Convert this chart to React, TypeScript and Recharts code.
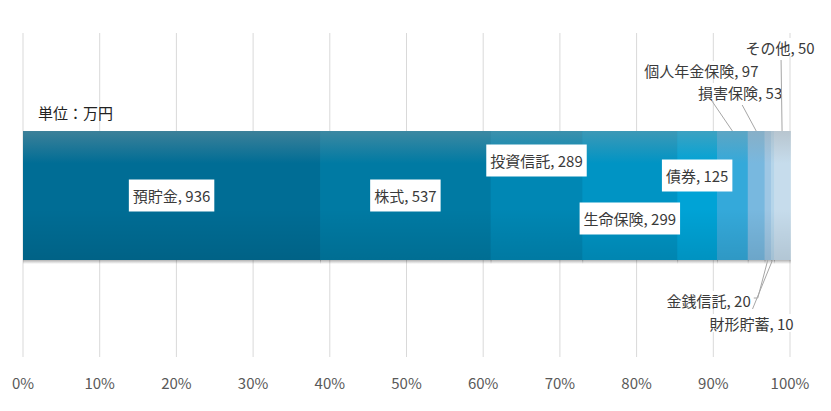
import { BarChart, Bar, XAxis, YAxis, CartesianGrid, LabelList } from "recharts";

const categories = [
  "預貯金",
  "株式",
  "投資信託",
  "生命保険",
  "債券",
  "個人年金保険",
  "損害保険",
  "金銭信託",
  "財形貯蓄",
  "その他",
];
const values = [936, 537, 289, 299, 125, 97, 53, 20, 10, 50];
const tickValues = [0, 0.1, 0.2, 0.3, 0.4, 0.5, 0.6, 0.7, 0.8, 0.9, 1];
const tickLabels = ["0%", "10%", "20%", "30%", "40%", "50%", "60%", "70%", "80%", "90%", "100%"];
const unitLabel = "単位：万円";

const colors = [
  "#006d95",
  "#007aa3",
  "#0087b4",
  "#0094c4",
  "#00a3d6",
  "#34a9da",
  "#78b8df",
  "#9fc7e4",
  "#b5d5ea",
  "#c6dcec",
];

// label placement per series: inside (dy from bar middle) or outside with a leader line
type LabelPos =
  | { mode: "inside"; dy: number }
  | { mode: "outside"; side: "top" | "bottom"; lx: number; ly: number; bx?: number; tx: number; ty: number; anchor: "middle" | "end" };

const labelPos: LabelPos[] = [
  { mode: "inside", dy: 0 },
  { mode: "inside", dy: 0 },
  { mode: "inside", dy: -35 },
  { mode: "inside", dy: 23 },
  { mode: "inside", dy: -20 },
  { mode: "outside", side: "top", lx: -32, ly: -47, tx: -31, ty: -61, anchor: "middle" },
  { mode: "outside", side: "top", lx: -14, ly: -26, tx: -16, ty: -39, anchor: "middle" },
  { mode: "outside", side: "bottom", lx: -10, ly: 38, bx: -14, tx: -17, ty: 40, anchor: "end" },
  { mode: "outside", side: "bottom", lx: -20, ly: 49, tx: -21, ty: 63, anchor: "middle" },
  { mode: "outside", side: "top", lx: -1, ly: -71, tx: -2, ty: -84, anchor: "middle" },
];

const FONT = "'Noto Sans CJK JP', 'Noto Sans', sans-serif";
const FS = 15;

const row: Record<string, number | string> = { name: "金融資産" };
categories.forEach((c, i) => {
  row[c] = values[i];
});
const data = [row];

const textWidth = (s: string) => {
  let w = 0;
  for (const ch of s) {
    if (ch.charCodeAt(0) > 0x2000) w += 1;
    else if (ch === ",") w += 0.275;
    else if (ch === " ") w += 0.224;
    else w += 0.555;
  }
  return w * FS;
};

const SegmentShape = (props: any) => {
  const { x, y, width, height, fill, index } = props;
  if (!width || width <= 0) return null;
  // overlap a little to the right so no seam shows between segments
  const w = width + 0.8;
  return (
    <g>
      <rect x={x} y={y + height} width={w} height={4} fill="url(#barShadow)" />
      <rect x={x} y={y} width={w} height={height} fill={fill} />
      <rect x={x} y={y} width={w} height={height} fill="url(#barShine)" />
    </g>
  );
};

const makeLabel = (i: number) => (props: any) => {
  const x = Number(props.x);
  const y = Number(props.y);
  const w = Number(props.width);
  const h = Number(props.height);
  const text = `${categories[i]}, ${values[i]}`;
  const tw = textWidth(text);
  const pos = labelPos[i];
  const cx = x + w / 2;
  if (pos.mode === "inside") {
    const cy = y + h / 2 + pos.dy;
    const bw = tw + 8;
    return (
      <g>
        <rect x={cx - bw / 2} y={cy - 16} width={bw} height={32} fill="#ffffff" />
        <text x={cx} y={cy} textAnchor="middle" dominantBaseline="central" fontSize={FS} fontFamily={FONT} fill="#3a3a3a">
          {text}
        </text>
      </g>
    );
  }
  const sy = pos.side === "top" ? y : y + h;
  const ex = cx + pos.lx;
  const ey = sy + pos.ly;
  const tx = cx + pos.tx;
  const ty = sy + pos.ty;
  const bx0 = pos.anchor === "middle" ? tx - tw / 2 : tx - tw;
  return (
    <g>
      <rect x={bx0 - 1} y={ty - 9} width={tw + 2} height={18} fill="#ffffff" />
      <polyline
        points={`${cx},${sy} ${ex},${ey}${pos.bx !== undefined ? ` ${cx + pos.bx},${ey}` : ""}`}
        fill="none"
        stroke="#a6a6a6"
        strokeWidth={1}
      />
      <text x={tx} y={ty} textAnchor={pos.anchor} dominantBaseline="central" fontSize={FS} fontFamily={FONT} fill="#3a3a3a">
        {text}
      </text>
    </g>
  );
};

const PercentTick = (props: any) => {
  const { x, y, payload, index } = props;
  return (
    <text x={x} y={y + 25} textAnchor="middle" dominantBaseline="central" fontSize={FS} fontFamily={FONT} fill="#595959">
      {tickLabels[index] ?? `${Math.round(payload.value * 100)}%`}
    </text>
  );
};

export default function App() {
  return (
    <div style={{ position: "absolute", left: 0, top: 0, width: 831, height: 411, background: "#fff" }}>
      <svg width={0} height={0} style={{ position: "absolute" }}>
        <defs>
          <linearGradient id="barShine" x1="0" y1="0" x2="0" y2="1">
            <stop offset="0" stopColor="#a0a0a0" stopOpacity={0.38} />
            <stop offset="0.25" stopColor="#a0a0a0" stopOpacity={0} />
            <stop offset="0.6" stopColor="#000000" stopOpacity={0} />
            <stop offset="1" stopColor="#000000" stopOpacity={0.1} />
          </linearGradient>
          <linearGradient id="barShadow" x1="0" y1="0" x2="0" y2="1">
            <stop offset="0" stopColor="#000000" stopOpacity={0.3} />
            <stop offset="1" stopColor="#000000" stopOpacity={0} />
          </linearGradient>
        </defs>
      </svg>
      <BarChart
        width={831}
        height={411}
        data={data}
        layout="vertical"
        stackOffset="expand"
        margin={{ top: 33, right: 41, bottom: 0, left: 23 }}
      >
        <CartesianGrid horizontal={false} stroke="#d9d9d9" />
        <XAxis
          type="number"
          domain={[0, 1]}
          ticks={tickValues}
          tick={<PercentTick />}
          tickLine={false}
          axisLine={false}
          tickSize={0}
          tickMargin={0}
          height={54}
          interval={0}
        />
        <YAxis type="category" dataKey="name" hide />
        {categories.map((c, i) => (
          <Bar
            key={c}
            dataKey={c}
            stackId="a"
            fill={colors[i]}
            barSize={129}
            shape={<SegmentShape />}
            isAnimationActive={false}
          >
            <LabelList dataKey={c} content={makeLabel(i)} />
          </Bar>
        ))}
      </BarChart>
      <div
        style={{
          position: "absolute",
          left: 38,
          top: 102,
          fontFamily: FONT,
          fontSize: 15,
          color: "#222",
          lineHeight: "22px",
        }}
      >
        {unitLabel}
      </div>
    </div>
  );
}
